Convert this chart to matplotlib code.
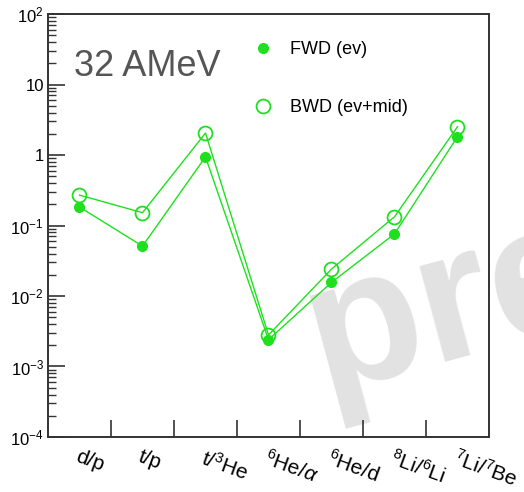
import matplotlib
matplotlib.use("Agg")
import matplotlib.pyplot as plt
from matplotlib.lines import Line2D
from matplotlib.ticker import FixedLocator, NullFormatter
import numpy as np

plt.rcParams['font.family'] = ['Liberation Sans', 'DejaVu Sans']
plt.rcParams['mathtext.fontset'] = 'custom'
plt.rcParams['mathtext.rm'] = 'Liberation Sans'
plt.rcParams['mathtext.it'] = 'Liberation Sans:italic'

# ratios
ratio_labels = [r"d/p", r"t/p", r"t/$^{3}$He", r"$^{6}$He/$\alpha$", r"$^{6}$He/d",
                r"$^{8}$Li/$^{6}$Li", r"$^{7}$Li/$^{7}$Be"]
fwd_ev = [0.183, 0.051, 0.94, 0.0024, 0.0156, 0.076, 1.82]
bwd_evmid = [0.27, 0.152, 2.05, 0.0028, 0.0241, 0.133, 2.52]

green = "#1fe01f"
x = np.arange(len(ratio_labels))

fig = plt.figure(figsize=(5.24, 4.92), dpi=100)
ax = fig.add_axes([0.0916, 0.1118, 0.8416, 0.8597])
ax.patch.set_alpha(0)

# watermark behind everything (cut off by the right edge, as in the original)
fig.text(0.615, 0.205, "pre", rotation=15, rotation_mode='anchor', fontsize=135,
         fontweight='bold', color="#e2e2e2", zorder=-5, ha='left', va='baseline')

ax.plot(x, fwd_ev, color=green, lw=1, marker='o', ms=7, mfc=green, mec=green)
ax.plot(x, bwd_evmid, color=green, lw=1, marker='o', ms=10, mfc='none', mec=green, mew=1.3)

ax.set_yscale('log')
ax.set_ylim(1e-4, 1e2)
ax.set_xlim(-0.5, len(ratio_labels) - 0.5)

ylabs = {1e2: r"$10^{2}$", 1e1: "10", 1e0: "1", 1e-1: r"$10^{-1}$",
         1e-2: r"$10^{-2}$", 1e-3: r"$10^{-3}$", 1e-4: r"$10^{-4}$"}
ax.set_yticks(list(ylabs.keys()))
ax.set_yticklabels(list(ylabs.values()), fontsize=12)
minors = [m * 10.0**e for e in range(-4, 2) for m in range(2, 10)]
ax.yaxis.set_minor_locator(FixedLocator(minors))
ax.yaxis.set_minor_formatter(NullFormatter())
ax.tick_params(axis='y', which='major', direction='in', length=12, width=1.2, pad=3, color='#333333')
ax.tick_params(axis='y', which='minor', direction='in', length=6, width=1, color='#333333')

ax.set_xticks(np.arange(0.5, len(ratio_labels) - 0.5, 1.0))
ax.set_xticklabels([])
ax.tick_params(axis='x', which='major', direction='in', length=12, width=1.2, color='#333333')
ax.set_xticks(x, ratio_labels, minor=True)
ax.tick_params(axis='x', which='minor', length=0, pad=7, labelsize=15)
for lab in ax.get_xticklabels(minor=True):
    lab.set_rotation(-20)
    lab.set_rotation_mode('anchor')
    lab.set_ha('left')
    lab.set_va('top')

for sp in ax.spines.values():
    sp.set_color('#333333')
    sp.set_linewidth(1.4)

ax.text(0.06, 0.875, "32 AMeV", transform=ax.transAxes, fontsize=26, color='#555555',
        ha='left', va='center')

handles = [Line2D([], [], ls='none', marker='o', ms=7, mfc=green, mec=green),
           Line2D([], [], ls='none', marker='o', ms=10, mfc='none', mec=green, mew=1.3)]
ax.legend(handles, ["FWD (ev)", "BWD (ev+mid)"], loc='upper left', bbox_to_anchor=(0.43, 0.975),
          frameon=False, fontsize=13, labelspacing=2.3, handletextpad=1.0, handlelength=1.0)

fig.savefig("out.png", dpi=100)
